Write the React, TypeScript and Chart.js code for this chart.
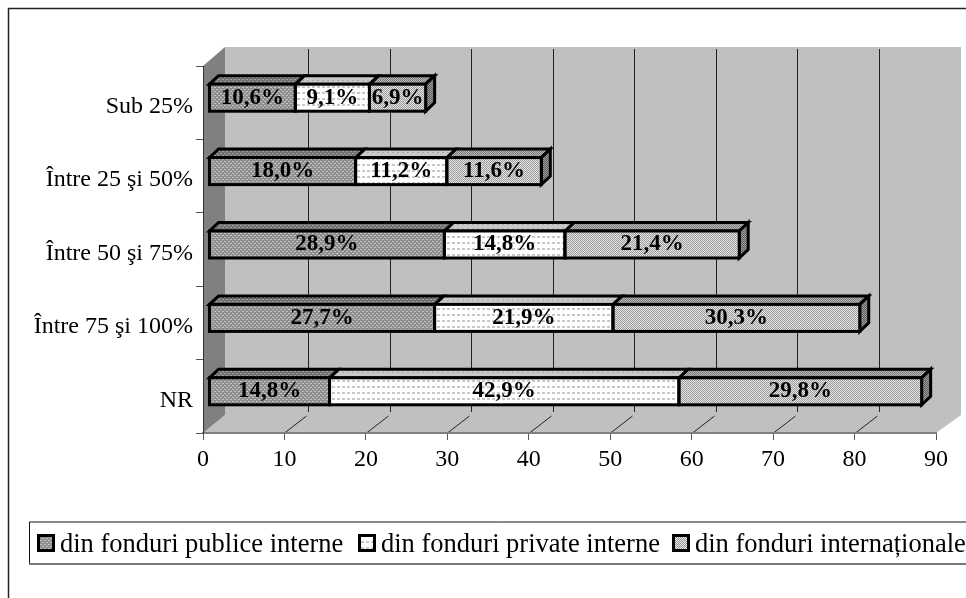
import React, { useEffect, useRef } from "react";
import { Chart, registerables } from "chart.js";

Chart.register(...registerables);

const categories = ["Sub 25%", "Între 25 şi 50%", "Între 50 şi 75%", "Între 75 şi 100%", "NR"];
const publice = [10.6, 18.0, 28.9, 27.7, 14.8];
const privateInterne = [9.1, 11.2, 14.8, 21.9, 42.9];
const internationale = [6.9, 11.6, 21.4, 30.3, 29.8];
const seriesLabels = ["din fonduri publice interne", "din fonduri private interne", "din fonduri internaționale"];
const xTicks = [0, 10, 20, 30, 40, 50, 60, 70, 80, 90];

const FONT = '"Liberation Serif", serif';
const WALL_DX = 22;
const GRID_DX = 24;
const RIGHT_DX = 25;
const WALL_UP = 19;
const FLOOR_UP = 18;
const BAR_DX = 6;
const BAR_DY = -5;
const CAP_X = 9;
const CAP_Y = 8.5;

function makePattern(bg: string, fg: string, w: number, h: number, dots: [number, number, number, number][]) {
  const c = document.createElement("canvas");
  c.width = w;
  c.height = h;
  const g = c.getContext("2d")!;
  g.fillStyle = bg;
  g.fillRect(0, 0, w, h);
  g.fillStyle = fg;
  dots.forEach(([x, y, dw, dh]) => g.fillRect(x, y, dw, dh));
  return g.createPattern(c, "repeat")!;
}

const bar3d = {
  id: "bar3d",
  beforeDraw(chart: any) {
    const { ctx, chartArea: a, scales } = chart;
    const x = scales.x;
    ctx.save();
    ctx.fillStyle = "#ffffff";
    ctx.fillRect(0, 0, chart.width, chart.height);
    ctx.strokeStyle = "#222";
    ctx.lineWidth = 1.5;
    ctx.beginPath();
    ctx.moveTo(8.5, chart.height);
    ctx.lineTo(8.5, 8.5);
    ctx.lineTo(chart.width, 8.5);
    ctx.stroke();

    const bx = a.left + WALL_DX;
    const by = a.top - WALL_UP;
    const bb = a.bottom - FLOOR_UP;
    const rx = a.right + RIGHT_DX;
    ctx.fillStyle = "#c0c0c0";
    ctx.fillRect(bx, by, rx - bx, bb - by);
    ctx.beginPath();
    ctx.moveTo(a.left, a.bottom);
    ctx.lineTo(bx, bb);
    ctx.lineTo(rx, bb);
    ctx.lineTo(a.right, a.bottom);
    ctx.closePath();
    ctx.fill();
    ctx.fillStyle = "#808080";
    ctx.beginPath();
    ctx.moveTo(a.left, a.top);
    ctx.lineTo(bx, by);
    ctx.lineTo(bx, bb);
    ctx.lineTo(a.left, a.bottom);
    ctx.closePath();
    ctx.fill();

    ctx.strokeStyle = "#222";
    ctx.lineWidth = 1;
    xTicks.forEach((t) => {
      if (t === 0 || t === 90) return;
      const px = Math.round(x.getPixelForValue(t)) + 0.5;
      ctx.beginPath();
      ctx.moveTo(px + GRID_DX, by + 2);
      ctx.lineTo(px + GRID_DX, bb - 3);
      ctx.moveTo(px + GRID_DX - 2, bb + 1);
      ctx.lineTo(px, a.bottom);
      ctx.stroke();
    });
    ctx.restore();
  },
  beforeDatasetsDraw(chart: any) {
    const { ctx } = chart;
    ctx.save();
    ctx.translate(BAR_DX, BAR_DY);
    ctx.lineWidth = 3;
    ctx.lineJoin = "miter";
    ctx.strokeStyle = "#000";
    const n = chart.data.datasets.length;
    for (let d = n - 1; d >= 0; d--) {
      const meta = chart.getDatasetMeta(d);
      const ds = chart.data.datasets[d];
      meta.data.forEach((el: any) => {
        const top = el.y - el.height / 2;
        const bot = el.y + el.height / 2;
        ctx.fillStyle = ds.capColor;
        ctx.beginPath();
        ctx.moveTo(el.base, top);
        ctx.lineTo(el.base + CAP_X, top - CAP_Y);
        ctx.lineTo(el.x + CAP_X, top - CAP_Y);
        ctx.lineTo(el.x, top);
        ctx.closePath();
        ctx.fill();
        ctx.stroke();
        if (d === n - 1) {
          ctx.fillStyle = ds.sideColor;
          ctx.beginPath();
          ctx.moveTo(el.x, top);
          ctx.lineTo(el.x + CAP_X, top - CAP_Y);
          ctx.lineTo(el.x + CAP_X, bot - CAP_Y);
          ctx.lineTo(el.x, bot);
          ctx.closePath();
          ctx.fill();
          ctx.stroke();
        }
      });
    }
  },
  afterDatasetsDraw(chart: any) {
    const { ctx } = chart;
    ctx.lineWidth = 3;
    ctx.strokeStyle = "#000";
    chart.data.datasets.forEach((ds: any, d: number) => {
      chart.getDatasetMeta(d).data.forEach((el: any) => {
        ctx.strokeRect(el.base, el.y - el.height / 2, el.x - el.base, el.height);
      });
    });
    ctx.font = `bold 23px ${FONT}`;
    ctx.fillStyle = "#000";
    ctx.textAlign = "center";
    ctx.textBaseline = "middle";
    chart.data.datasets.forEach((ds: any, d: number) => {
      chart.getDatasetMeta(d).data.forEach((el: any, i: number) => {
        const label = ds.data[i].toFixed(1).replace(".", ",") + "%";
        ctx.fillText(label, (el.x + el.base) / 2, el.y);
      });
    });
    ctx.restore();
  },
  afterDraw(chart: any) {
    const { ctx } = chart;
    ctx.save();
    ctx.strokeStyle = "#111";
    ctx.lineWidth = 1;
    ctx.beginPath();
    ctx.moveTo(chart.width, 522);
    ctx.lineTo(29.5, 522);
    ctx.lineTo(29.5, 564);
    ctx.stroke();
    ctx.strokeStyle = "#777";
    ctx.lineWidth = 2;
    ctx.beginPath();
    ctx.moveTo(29, 564);
    ctx.lineTo(chart.width, 564);
    ctx.stroke();
    ctx.font = `26.5px ${FONT}`;
    ctx.textBaseline = "middle";
    ctx.textAlign = "left";
    const starts = [37, 358, 672];
    chart.data.datasets.forEach((ds: any, i: number) => {
      const sx = starts[i];
      ctx.fillStyle = ds.backgroundColor;
      ctx.fillRect(sx, 534, 18, 18);
      ctx.strokeStyle = "#000";
      ctx.lineWidth = 3;
      ctx.strokeRect(sx + 1.5, 535.5, 15, 15);
      ctx.fillStyle = "#000";
      ctx.fillText(ds.label, sx + 23, 545);
    });
    ctx.restore();
  },
};

export default function App() {
  const ref = useRef<HTMLCanvasElement>(null);
  useEffect(() => {
    document.body.style.margin = "0";
    document.body.style.overflow = "hidden";
    const dark = makePattern("#8e8e8e", "#c4c4c4", 4, 4, [[0, 0, 2, 1], [2, 2, 2, 1]]);
    const white = makePattern("#ffffff", "#c8c8c8", 5, 6, [[1, 1, 3, 2]]);
    const light = makePattern("#9a9a9a", "#e6e6e6", 2, 2, [[0, 0, 1, 1], [1, 1, 1, 1]]);
    const darkCap = makePattern("#707070", "#a0a0a0", 4, 4, [[0, 0, 2, 1], [2, 2, 2, 1]]);
    const whiteCap = makePattern("#c8c8c8", "#a8a8a8", 5, 4, [[1, 1, 2, 1]]);
    const lightCap = makePattern("#7a7a7a", "#b8b8b8", 2, 2, [[0, 0, 1, 1], [1, 1, 1, 1]]);
    const lightSide = makePattern("#5a5a5a", "#a0a0a0", 2, 2, [[0, 0, 1, 1], [1, 1, 1, 1]]);
    const chart = new Chart(ref.current!, {
      type: "bar",
      data: {
        labels: categories,
        datasets: [
          { label: seriesLabels[0], data: publice, backgroundColor: dark, borderWidth: 0, capColor: darkCap, sideColor: lightSide },
          { label: seriesLabels[1], data: privateInterne, backgroundColor: white, borderWidth: 0, capColor: whiteCap, sideColor: lightSide },
          { label: seriesLabels[2], data: internationale, backgroundColor: light, borderWidth: 0, capColor: lightCap, sideColor: lightSide },
        ] as any,
      },
      plugins: [bar3d],
      options: {
        indexAxis: "y",
        responsive: false,
        animation: false,
        devicePixelRatio: 1,
        datasets: { bar: { categoryPercentage: 0.368, barPercentage: 1 } },
        layout: { padding: { left: 0, right: 30, top: 66, bottom: 598 - 433 - 40 } },
        plugins: { legend: { display: false }, title: { display: false }, tooltip: { enabled: false } },
        scales: {
          x: {
            stacked: true,
            min: 0,
            max: 90,
            afterFit(s: any) { s.height = 40; },
            ticks: { stepSize: 10, color: "#000", font: { family: FONT, size: 24 }, maxRotation: 0, padding: 5 },
            grid: { display: true, drawOnChartArea: false, drawTicks: true, tickLength: 7, color: "#555" },
            border: { color: "#808080", width: 2 },
          },
          y: {
            stacked: true,
            afterFit(s: any) { s.width = 203; },
            ticks: { color: "#000", font: { family: FONT, size: 24 }, padding: 3, labelOffset: 4 },
            grid: { display: true, drawOnChartArea: false, drawTicks: true, tickLength: 7, color: "#555" },
            border: { color: "#333", width: 1 },
          },
        },
      } as any,
    });
    return () => chart.destroy();
  }, []);
  return <canvas ref={ref} width={966} height={598} style={{ display: "block", width: 966, height: 598 }} />;
}
